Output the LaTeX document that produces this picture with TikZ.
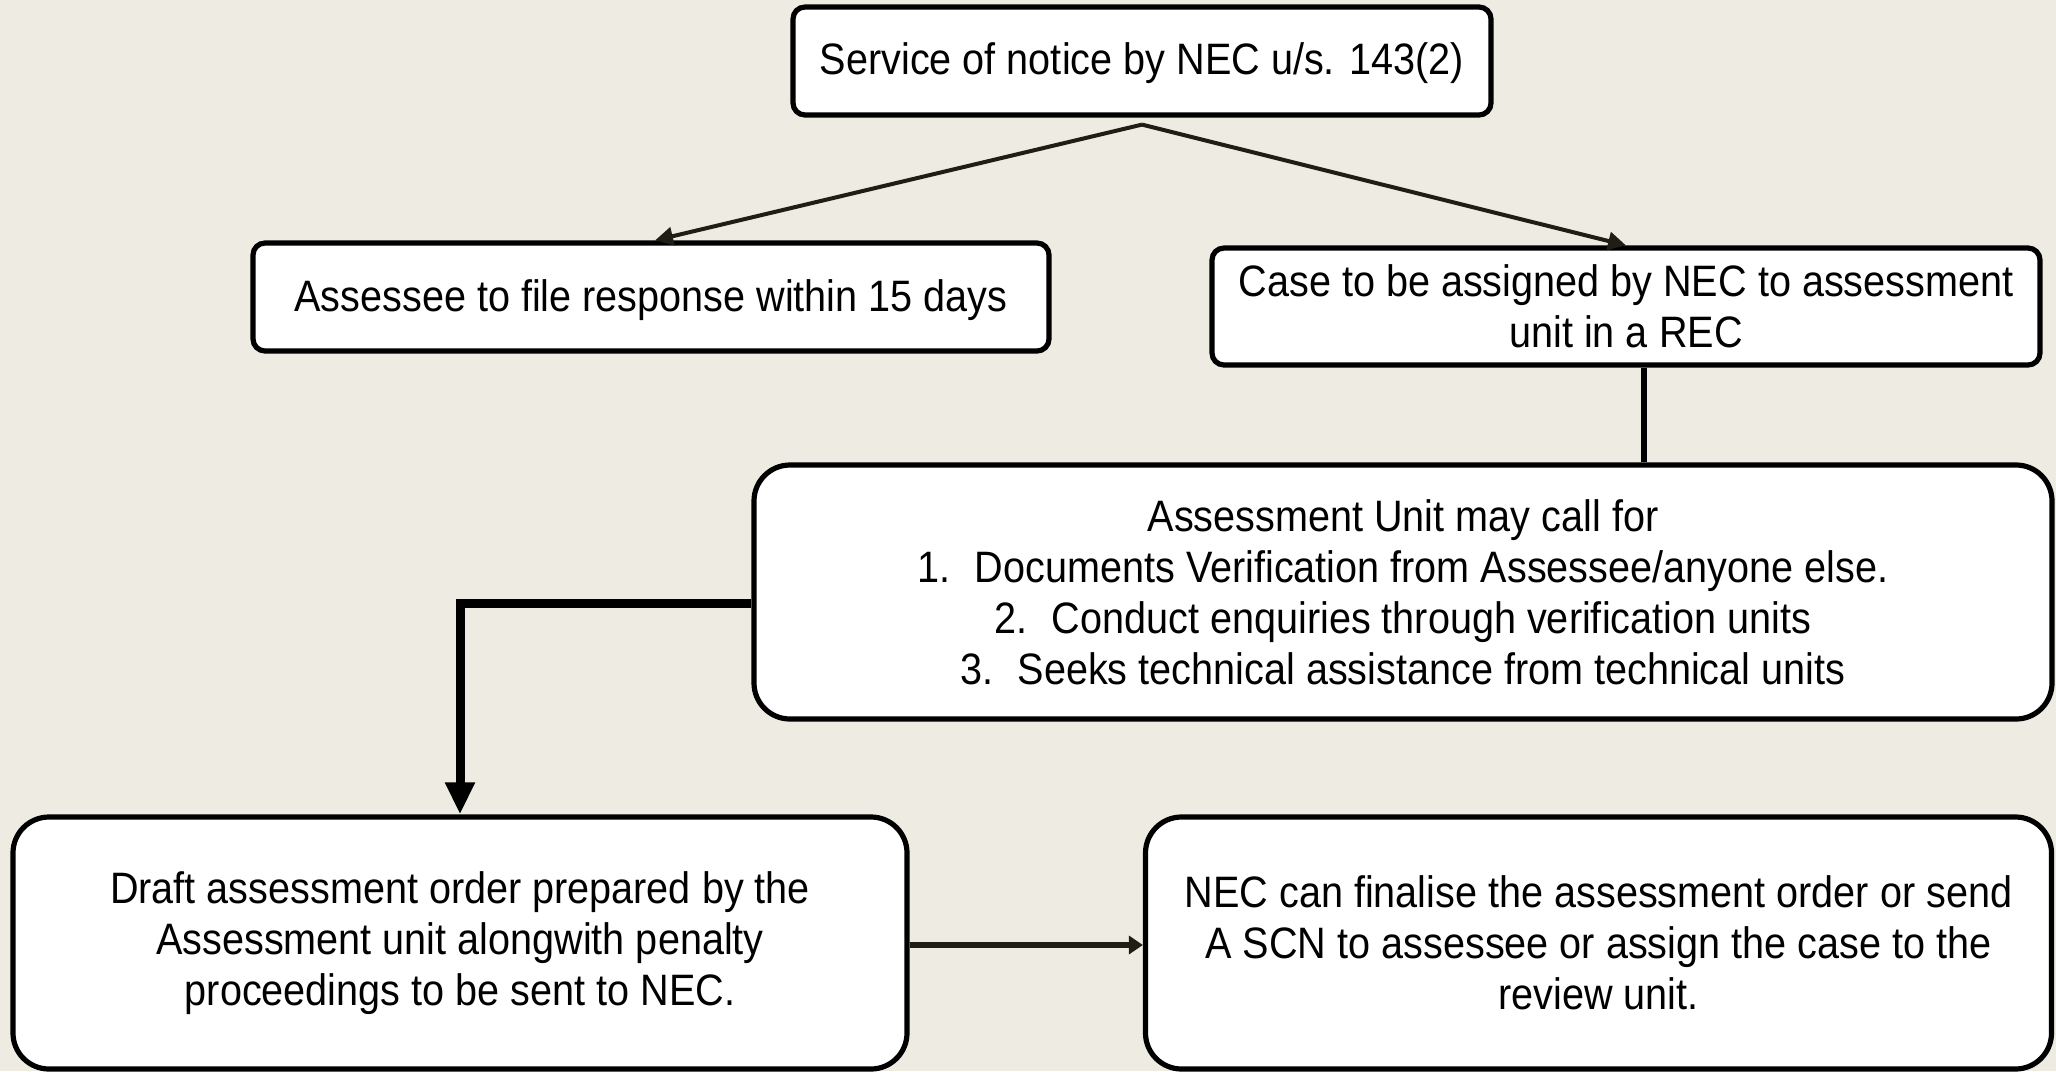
\documentclass[tikz,border=0pt]{standalone}
\usepackage{fontspec}
\setmainfont[FakeStretch=0.9]{Liberation Sans}
\usetikzlibrary{arrows.meta,calc}
\definecolor{bgc}{RGB}{238,235,227}
\definecolor{lnc}{RGB}{30,30,20}
\begin{document}
\begin{tikzpicture}[x=0.5pt,y=-0.5pt,
  box/.style={draw=black,fill=white,line width=2.6pt,rounded corners=6pt,align=center,inner sep=0pt,
    font=\fontsize{22}{25.5}\selectfont},
  bigbox/.style={box,rounded corners=18pt},
  thin arrow/.style={draw=lnc,line width=2pt,-{Triangle[length=9pt,width=9pt]}},
]
\useasboundingbox[fill=bgc] (0,0) rectangle (2056,1071);
\node[box,minimum width=349pt,minimum height=54pt,text depth=2pt] (b1) at (1142,61) {Service of notice by NEC u/s. 143(2)};
\node[box,minimum width=398pt,minimum height=54pt,text depth=1pt] (b2) at (651,297) {Assessee to file response within 15 days};
\node[box,minimum width=414pt,minimum height=58.5pt] (b3) at (1626,306.5) {Case to be assigned by NEC to assessment\\unit in a REC};
\node[bigbox,minimum width=649pt,minimum height=127pt] (b4) at (1403,592) {Assessment Unit may call for\\
1.\hspace{12pt}Documents Verification from Assessee/anyone else.\\
2.\hspace{12pt}Conduct enquiries through verification units\\
3.\hspace{12pt}Seeks technical assistance from technical units};
\node[bigbox,minimum width=447pt,minimum height=126pt] (b5) at (460,943) {Draft assessment order prepared by the\\Assessment unit alongwith penalty\\proceedings to be sent to NEC.};
\node[bigbox,minimum width=453pt,minimum height=126pt] (b6) at (1598.5,943) {NEC can finalise the assessment order or send\\A SCN to assessee or assign the case to the\\review unit.};
\coordinate (fork) at ($(b1.south)+(0,7)$);
\draw[thin arrow] (fork) -- ([xshift=2pt]b2.north);
\draw[thin arrow] (fork) -- (b3.north);
\draw[black,line width=3.3pt] ([xshift=9pt]b3.south) -- ([xshift=9pt]b3.south |- b4.north);
\draw[black,line width=4.5pt,-{Triangle[length=16pt,width=14pt]}] ([yshift=-5.5pt]b4.west) -| (b5.north);
\draw[lnc,line width=3.2pt,-{Triangle[length=7pt,width=9pt]}] ([yshift=-1pt]b5.east) -- ([yshift=-1pt]b6.west);
\end{tikzpicture}
\end{document}
